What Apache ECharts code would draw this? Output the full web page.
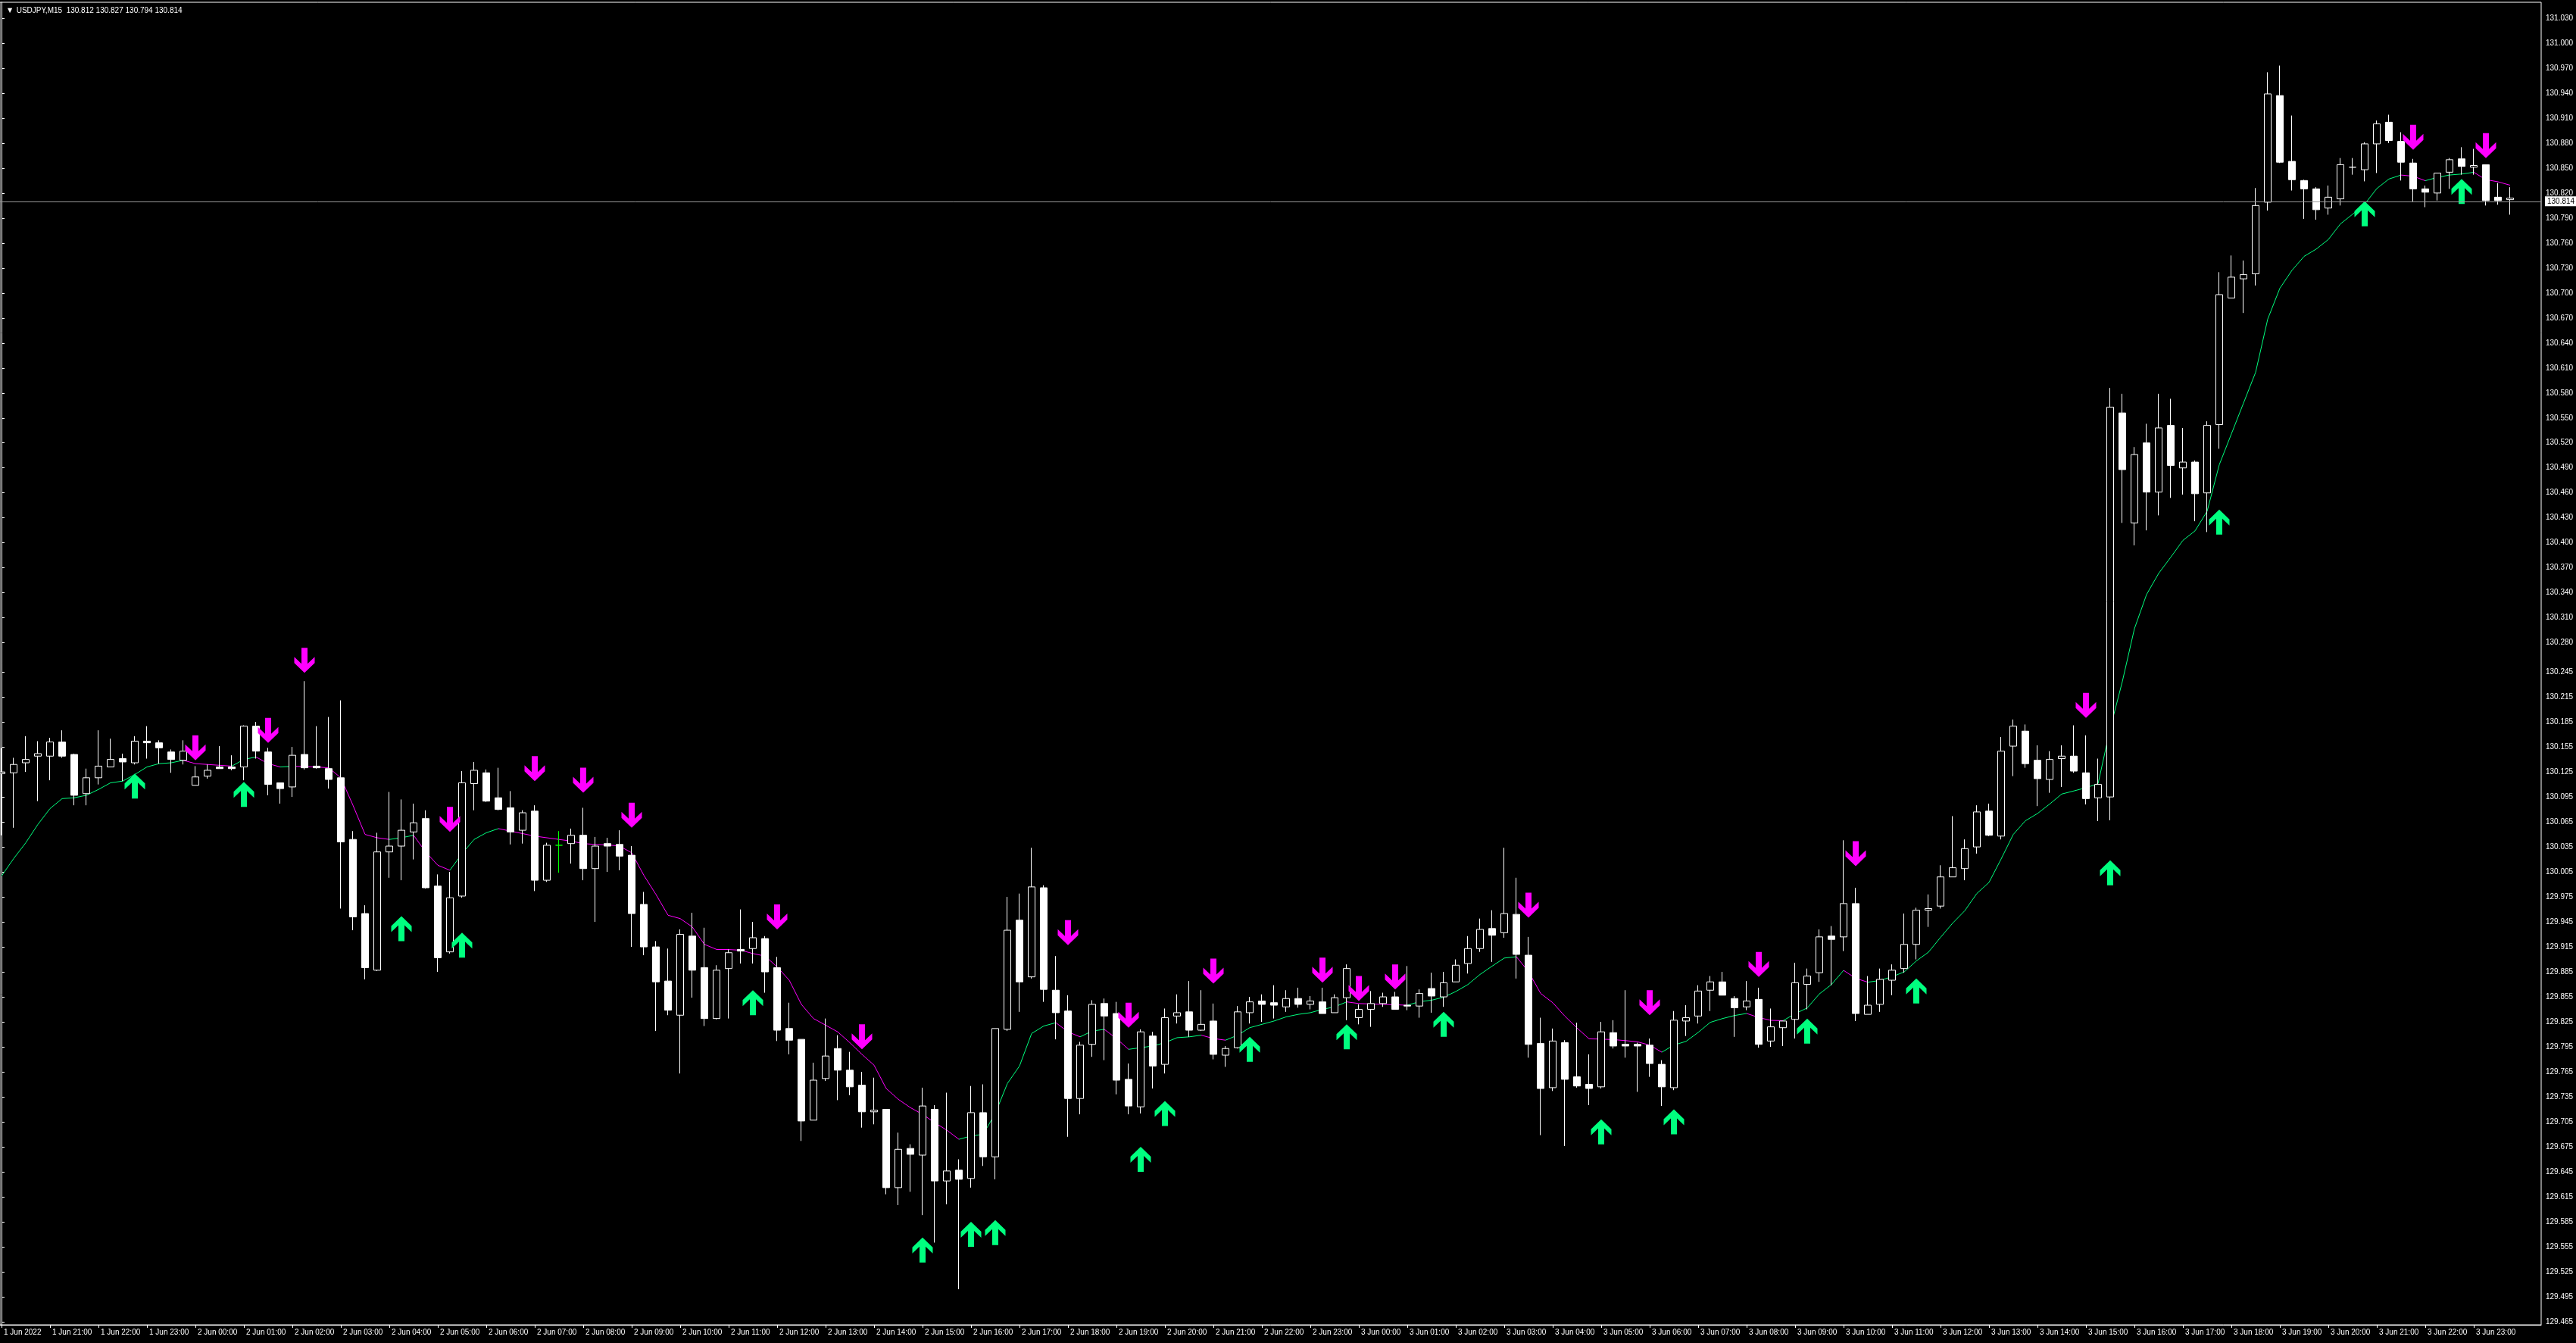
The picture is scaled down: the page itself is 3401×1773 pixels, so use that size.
<!DOCTYPE html>
<html>
<head>
<meta charset="utf-8">
<title>USDJPY,M15</title>
<script src="https://cdn.jsdelivr.net/npm/echarts@6/dist/echarts.min.js"></script>
<style>
html,body{margin:0;padding:0;background:#000;}
#chart{width:3401px;height:1773px;}
</style>
</head>
<body>
<div id="chart"></div>
<script>
var symbolTitle = 'USDJPY,M15';
var lastQuote = [130.812, 130.827, 130.794, 130.814];
var bidPrice = 130.814;

// M15 bars from 1 Jun 20:00 to 3 Jun 23:45
var opens = [
130.123,130.124,130.136,130.144,130.144,130.161,130.146,130.099,130.118,130.131,
130.141,130.136,130.162,130.160,130.149,130.139,130.109,130.120,130.131,130.131,
130.131,130.180,130.149,130.112,130.107,130.146,130.132,130.129,130.118,130.044,
129.955,129.887,130.029,130.036,130.053,130.069,129.988,129.909,129.976,130.111,
130.124,130.094,130.082,130.055,130.078,129.995,130.037,130.039,130.049,130.009,
130.039,130.038,130.025,129.966,129.915,129.874,129.833,129.928,129.890,129.829,
129.889,129.912,129.913,129.925,129.890,129.817,129.804,129.707,129.757,129.793,
129.767,129.749,129.717,129.720,129.626,129.673,129.665,129.720,129.634,129.647,
129.637,129.716,129.663,129.816,129.947,129.879,129.986,129.863,129.838,129.733,
129.798,129.847,129.835,129.756,129.723,129.808,129.774,129.832,129.837,129.815,
129.826,129.785,129.794,129.836,129.850,129.848,129.843,129.853,129.846,129.849,
129.836,129.854,129.830,129.840,129.847,129.855,129.845,129.844,129.865,129.855,
129.873,129.895,129.913,129.937,129.932,129.954,129.905,129.799,129.746,129.800,
129.759,129.750,129.747,129.812,129.798,129.798,129.797,129.774,129.746,129.826,
129.832,129.863,129.873,129.853,129.843,129.852,129.802,129.818,129.828,129.870,
129.884,129.928,129.927,129.967,129.834,129.846,129.875,129.889,129.918,129.959,
129.964,129.999,130.009,130.035,130.078,130.048,130.156,130.174,130.139,130.116,
130.141,130.144,130.124,130.094,130.095,130.556,130.424,130.520,130.461,130.541,
130.490,130.497,130.460,130.542,130.694,130.717,130.723,130.809,130.937,130.858,
130.835,130.825,130.802,130.813,130.851,130.848,130.879,130.905,130.882,130.856,
130.825,130.820,130.845,130.861,130.851,130.854,130.815,130.812
];
var highs = [
130.154,130.142,130.168,130.162,130.166,130.175,130.147,130.129,130.175,130.165,
130.147,130.168,130.180,130.163,130.152,130.163,130.132,130.134,130.156,130.145,
130.181,130.185,130.154,130.112,130.155,130.234,130.180,130.191,130.211,130.054,
129.965,130.052,130.101,130.092,130.087,130.079,130.002,130.005,130.126,130.137,
130.128,130.130,130.102,130.079,130.085,130.040,130.054,130.057,130.082,130.047,
130.046,130.055,130.036,129.981,129.922,129.913,129.936,129.956,129.938,129.893,
129.912,129.960,129.945,129.928,129.903,129.848,129.804,129.776,129.829,129.809,
129.789,129.765,129.758,129.720,129.692,129.678,129.746,129.725,129.740,129.660,
129.748,129.750,129.817,129.975,129.979,130.034,129.989,129.904,129.857,129.801,
129.851,129.853,129.849,129.775,129.816,129.813,129.841,129.858,129.874,129.863,
129.847,129.796,129.844,129.855,129.858,129.869,129.863,129.866,129.856,129.866,
129.858,129.894,129.846,129.862,129.860,129.861,129.892,129.864,129.884,129.885,
129.900,129.928,129.949,129.959,130.034,129.998,129.927,129.830,129.817,129.803,
129.824,129.786,129.825,129.827,129.863,129.800,129.805,129.779,129.838,129.845,
129.869,129.880,129.885,129.856,129.874,129.866,129.841,129.826,129.896,129.889,
129.936,129.940,130.043,129.986,129.880,129.889,129.894,129.955,129.962,129.978,
130.013,130.072,130.044,130.085,130.087,130.167,130.188,130.182,130.157,130.150,
130.157,130.181,130.169,130.141,130.586,130.579,130.515,130.543,130.579,130.573,
130.538,130.499,130.546,130.725,130.745,130.739,130.826,130.965,130.973,130.913,
130.836,130.827,130.829,130.862,130.862,130.881,130.907,130.914,130.893,130.861,
130.829,130.844,130.862,130.875,130.873,130.854,130.832,130.827
];
var lows = [
130.049,130.058,130.125,130.090,130.115,130.142,130.085,130.085,130.110,130.131,
130.114,130.134,130.141,130.135,130.124,130.134,130.109,130.117,130.129,130.127,
130.115,130.141,130.097,130.087,130.095,130.128,130.129,130.105,129.961,129.935,
129.876,129.886,129.998,129.995,130.020,129.985,129.885,129.907,129.974,130.079,
130.089,130.079,130.038,130.039,129.982,129.993,130.004,130.015,129.995,129.945,
130.005,130.007,129.915,129.905,129.814,129.833,129.763,129.854,129.820,129.828,
129.829,129.895,129.895,129.860,129.802,129.786,129.682,129.707,129.754,129.731,
129.737,129.698,129.702,129.618,129.605,129.621,129.593,129.560,129.606,129.504,
129.626,129.652,129.636,129.814,129.837,129.877,129.849,129.804,129.687,129.714,
129.783,129.779,129.738,129.714,129.715,129.745,129.763,129.823,129.807,129.814,
129.780,129.771,129.793,129.823,129.825,129.829,129.837,129.842,129.840,129.835,
129.836,129.827,129.822,129.819,129.843,129.840,129.839,129.830,129.836,129.843,
129.873,129.883,129.909,129.897,129.926,129.877,129.782,129.689,129.742,129.676,
129.746,129.725,129.745,129.793,129.782,129.741,129.759,129.724,129.743,129.808,
129.823,129.838,129.857,129.807,129.839,129.794,129.795,129.796,129.805,129.840,
129.873,129.869,129.910,129.826,129.834,129.837,129.857,129.884,129.900,129.939,
129.961,129.999,129.995,130.027,130.048,130.044,130.120,130.130,130.084,130.100,
130.107,130.124,130.086,130.066,130.067,130.424,130.397,130.415,130.433,130.454,
130.458,130.426,130.413,130.513,130.694,130.676,130.709,130.799,130.856,130.823,
130.789,130.788,130.794,130.805,130.842,130.834,130.844,130.880,130.835,130.810,
130.803,130.811,130.825,130.842,130.842,130.805,130.806,130.794
];
var closes = [
130.125,130.134,130.140,130.147,130.161,130.144,130.097,130.118,130.132,130.140,
130.137,130.162,130.160,130.154,130.140,130.150,130.119,130.127,130.129,130.129,
130.180,130.150,130.110,130.105,130.145,130.130,130.130,130.116,130.041,129.951,
129.890,130.029,130.036,130.055,130.064,129.986,129.902,129.974,130.112,130.127,
130.090,130.080,130.053,130.076,129.995,130.037,130.037,130.049,130.009,130.036,
130.036,130.024,129.955,129.915,129.873,129.839,129.930,129.887,129.829,129.887,
129.908,129.910,129.926,129.885,129.815,129.803,129.706,129.755,129.784,129.767,
129.747,129.717,129.719,129.626,129.672,129.666,129.724,129.634,129.646,129.636,
129.716,129.663,129.817,129.935,129.873,129.987,129.864,129.836,129.733,129.797,
129.846,129.832,129.755,129.724,129.813,129.772,129.830,129.836,129.815,129.822,
129.786,129.793,129.837,129.849,129.846,129.845,129.853,129.846,129.850,129.835,
129.854,129.889,129.840,129.847,129.855,129.840,129.844,129.859,129.856,129.872,
129.893,129.913,129.936,129.929,129.955,129.906,129.798,129.745,129.802,129.756,
129.748,129.745,129.813,129.796,129.796,129.796,129.775,129.747,129.827,129.830,
129.862,129.873,129.857,129.842,129.850,129.798,129.819,129.826,129.872,129.880,
129.927,129.924,129.967,129.835,129.845,129.876,129.887,129.918,129.959,129.961,
129.999,130.010,130.033,130.077,130.049,130.150,130.180,130.135,130.117,130.140,
130.144,130.126,130.093,130.110,130.563,130.488,130.506,130.461,130.538,130.493,
130.497,130.459,130.541,130.698,130.719,130.722,130.805,130.939,130.857,130.836,
130.825,130.800,130.815,130.854,130.851,130.879,130.903,130.883,130.857,130.825,
130.821,130.844,130.860,130.852,130.853,130.811,130.811,130.814
];
// indicator moving average, one value per bar
var maValues = [
130.000,130.021,130.040,130.062,130.081,130.093,130.094,130.097,130.104,130.112,
130.114,130.122,130.131,130.135,130.136,130.139,130.135,130.134,130.133,130.132,
130.140,130.143,130.135,130.131,130.1318,130.1315,130.131,130.130,130.118,130.085,
130.050,130.046,130.044,130.046,130.049,130.029,130.013,130.007,130.027,130.044,
130.052,130.057,130.054,130.051,130.048,130.046,130.044,130.042,130.039,130.038,
130.0375,130.036,130.028,130.001,129.978,129.953,129.949,129.939,129.918,129.912,
129.9118,129.911,129.907,129.904,129.891,129.875,129.846,129.829,129.821,129.813,
129.800,129.786,129.773,129.745,129.732,129.722,129.714,129.704,129.695,129.684,
129.688,129.690,129.715,129.751,129.772,129.811,129.820,129.824,129.813,129.807,
129.814,129.816,129.805,129.792,129.794,129.796,129.800,129.806,129.807,129.809,
129.805,129.803,129.809,129.818,129.822,129.826,129.831,129.834,129.836,129.840,
129.843,129.849,129.847,129.8465,129.846,129.8455,129.845,129.8492,129.8510,129.8546,
129.8614,129.8698,129.8819,129.8919,129.9016,129.9032,129.8853,129.8592,129.8480,129.8319,
129.8177,129.8046,129.8043,129.8037,129.8025,129.8010,129.7971,129.7886,129.7971,129.8016,
129.8123,129.8244,129.8289,129.8326,129.8351,129.8302,129.8268,129.8264,129.8348,129.8417,
129.8585,129.8698,129.8868,129.8773,129.8726,129.8747,129.8792,129.8849,129.8981,129.9086,
129.9264,129.9435,129.9584,129.9792,129.9924,130.0205,130.0499,130.0664,130.0751,130.0864,
130.0985,130.1022,130.1061,130.1110,130.1770,130.2334,130.2970,130.3380,130.3634,130.3828,
130.4030,130.4144,130.4380,130.4938,130.5308,130.5678,130.6048,130.6687,130.7056,130.7272,
130.7440,130.7527,130.7642,130.7830,130.7945,130.8066,130.8254,130.8368,130.8416,130.8402,
130.8348,130.8388,130.8416,130.8428,130.8449,130.8361,130.8335,130.8294
];
// signal arrows: bar index and price of the arrow tip
var upArrowBars = [11,20,33,38,62,76,80,82,94,96,103,111,119,132,138,149,158,174,183,195,203];
var upArrowPrices = [130.123,130.113,129.952,129.932,129.863,129.566,129.585,129.587,129.675,129.730,129.807,129.822,129.837,129.708,129.720,129.829,129.877,130.019,130.440,130.810,130.837];
var downArrowBars = [16,22,25,37,44,48,52,64,71,88,93,100,109,112,115,126,136,145,153,172,199,205];
var downArrowPrices = [130.139,130.160,130.244,130.053,130.114,130.100,130.058,129.936,129.792,129.917,129.818,129.871,129.872,129.850,129.864,129.950,129.833,129.879,130.012,130.190,130.872,130.862];
var greenDoji = [46];

var xTickLabels = ['1 Jun 2022','1 Jun 21:00','1 Jun 22:00','1 Jun 23:00',
'2 Jun 00:00','2 Jun 01:00','2 Jun 02:00','2 Jun 03:00','2 Jun 04:00','2 Jun 05:00','2 Jun 06:00','2 Jun 07:00',
'2 Jun 08:00','2 Jun 09:00','2 Jun 10:00','2 Jun 11:00','2 Jun 12:00','2 Jun 13:00','2 Jun 14:00','2 Jun 15:00',
'2 Jun 16:00','2 Jun 17:00','2 Jun 18:00','2 Jun 19:00','2 Jun 20:00','2 Jun 21:00','2 Jun 22:00','2 Jun 23:00',
'3 Jun 00:00','3 Jun 01:00','3 Jun 02:00','3 Jun 03:00','3 Jun 04:00','3 Jun 05:00','3 Jun 06:00','3 Jun 07:00',
'3 Jun 08:00','3 Jun 09:00','3 Jun 10:00','3 Jun 11:00','3 Jun 12:00','3 Jun 13:00','3 Jun 14:00','3 Jun 15:00',
'3 Jun 16:00','3 Jun 17:00','3 Jun 18:00','3 Jun 19:00','3 Jun 20:00','3 Jun 21:00','3 Jun 22:00','3 Jun 23:00'];
var yTickValues = [131.030,131.000,130.970,130.940,130.910,130.880,130.850,130.820,130.790,130.760,
130.730,130.700,130.670,130.640,130.610,130.580,130.550,130.520,130.490,130.460,130.430,130.400,
130.370,130.340,130.310,130.280,130.245,130.215,130.185,130.155,130.125,130.095,130.065,130.035,
130.005,129.975,129.945,129.915,129.885,129.855,129.825,129.795,129.765,129.735,129.705,129.675,
129.645,129.615,129.585,129.555,129.525,129.495,129.465];

var FONT = 'Liberation Sans';
var UP_COLOR = '#00ff7f';
var DN_COLOR = '#ff00ff';
var upPath = 'path://M13.5 0 L27 13 L27 21 L17.5 12 L17.5 33 L9.5 33 L9.5 12 L0 21 L0 13 Z';
var dnPath = 'path://M13.5 33 L27 20 L27 12 L17.5 21 L17.5 0 L9.5 0 L9.5 21 L0 12 L0 20 Z';

function draw(){
	var candles = [];
	for(var i=0;i<opens.length;i++){
		var item = {value:[i, opens[i], closes[i], lows[i], highs[i]]};
		if(greenDoji.indexOf(i) >= 0){
			item.itemStyle = {borderColorDoji:'#00ff00'};
		}
		candles.push(item);
	}
	// MA drawn segment by segment, green while rising, magenta otherwise
	var segs = [];
	for(var j=1;j<maValues.length;j++){
		segs.push({
			coords:[[j-1, maValues[j-1]], [j, maValues[j]]],
			lineStyle:{color: maValues[j] > maValues[j-1] ? UP_COLOR : DN_COLOR}
		});
	}
	var ups = [], downs = [];
	for(var k=0;k<upArrowBars.length;k++) ups.push([upArrowBars[k], upArrowPrices[k]]);
	for(var m=0;m<downArrowBars.length;m++) downs.push([downArrowBars[m], downArrowPrices[m]]);
	var xTickBars = [];
	for(var t=0;t<xTickLabels.length;t++) xTickBars.push(t*4);

	var myChart = echarts.init(document.getElementById('chart'));
	var option = {
		backgroundColor:'#000',
		animation:false,
		title:{
			text:'{t|\u25BC}  ' + symbolTitle + '  ' + lastQuote.map(function(v){return v.toFixed(3);}).join(' '),
			left:5, top:4,
			textStyle:{
				color:'#fff', fontSize:10, fontWeight:'normal', fontFamily:FONT,
				rich:{t:{fontSize:8, color:'#fff', fontFamily:'DejaVu Sans'}}
			}
		},
		grid:{left:0, right:46, top:3, bottom:24, show:true, borderColor:'#fff', borderWidth:1},
		xAxis:{
			type:'value', min:-0.125, max:209.5625,
			axisLine:{show:true, onZero:false, lineStyle:{color:'#fff', width:1}},
			axisTick:{show:true, length:4, customValues:xTickBars, lineStyle:{color:'#fff'}},
			axisLabel:{
				customValues:xTickBars, color:'#fff', fontSize:10, fontFamily:FONT,
				align:'left', margin:5, padding:[0,0,0,3],
				formatter:function(v){ return xTickLabels[Math.round(v/4)]; }
			},
			splitLine:{show:false}
		},
		yAxis:{
			type:'value', position:'right', min:129.4613, max:131.049,
			axisLine:{show:true, lineStyle:{color:'#fff', width:1}},
			axisTick:{show:true, length:4, customValues:yTickValues, lineStyle:{color:'#fff'}},
			axisLabel:{
				customValues:yTickValues, color:'#fff', fontSize:10, fontFamily:FONT, margin:6,
				formatter:function(v){ return v.toFixed(3); }
			},
			splitLine:{show:false}
		},
		series:[
			{
				name:'ma', type:'lines', coordinateSystem:'cartesian2d', z:1, silent:true,
				lineStyle:{width:1, opacity:1},
				data:segs
			},
			{
				name:symbolTitle, type:'candlestick', z:2, barWidth:10,
				encode:{x:0, y:[1,2,3,4]},
				itemStyle:{
					color:'#000', color0:'#fff',
					borderColor:'#fff', borderColor0:'#fff', borderColorDoji:'#fff',
					borderWidth:1
				},
				markLine:{
					silent:true, symbol:['none','none'], animation:false,
					lineStyle:{color:'#9a9a9a', width:1, type:'solid'},
					label:{
						show:true, position:'end', distance:5,
						formatter:bidPrice.toFixed(3),
						color:'#000', backgroundColor:'#fff', fontSize:10, fontFamily:FONT,
						padding:[2,3,1,3]
					},
					data:[{yAxis:bidPrice}]
				},
				data:candles
			},
			{
				name:'buy', type:'scatter', z:3, silent:true,
				symbol:upPath, symbolSize:[27,33], symbolOffset:[0,'50%'],
				itemStyle:{color:UP_COLOR, opacity:1},
				data:ups
			},
			{
				name:'sell', type:'scatter', z:3, silent:true,
				symbol:dnPath, symbolSize:[27,33], symbolOffset:[0,'-50%'],
				itemStyle:{color:DN_COLOR, opacity:1},
				data:downs
			}
		]
	};
	myChart.setOption(option);
}

draw();
</script>
</body>
</html>
